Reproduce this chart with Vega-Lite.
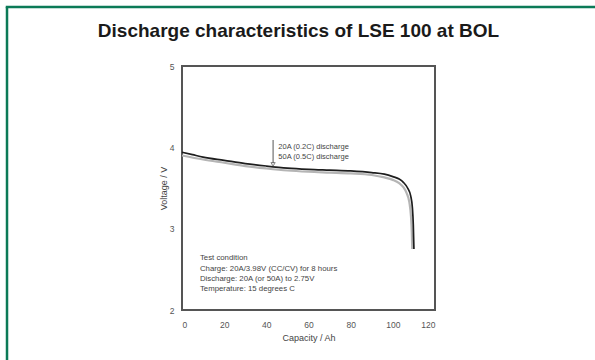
{
  "$schema": "https://vega.github.io/schema/vega-lite/v6.json",
  "width": 253,
  "height": 244,
  "autosize": {"type": "none"},
  "padding": {"left": 182, "top": 66, "right": 160, "bottom": 50},
  "background": "white",
  "title": {
    "text": "Discharge characteristics of LSE 100 at BOL",
    "font": "Liberation Sans",
    "fontSize": 19,
    "fontWeight": "bold",
    "color": "#1a1a1a",
    "offset": -35,
    "dx": -10,
    "anchor": "middle"
  },
  "config": {
    "view": {"stroke": "#555555", "strokeWidth": 2},
    "font": "Liberation Sans"
  },
  "datasets": {
    "curves": [
      {"series": "50A (0.5C)", "capacity": 0, "voltage": 3.90},
      {"series": "50A (0.5C)", "capacity": 10, "voltage": 3.85},
      {"series": "50A (0.5C)", "capacity": 20, "voltage": 3.81},
      {"series": "50A (0.5C)", "capacity": 30, "voltage": 3.77},
      {"series": "50A (0.5C)", "capacity": 40, "voltage": 3.74},
      {"series": "50A (0.5C)", "capacity": 50, "voltage": 3.715},
      {"series": "50A (0.5C)", "capacity": 60, "voltage": 3.70},
      {"series": "50A (0.5C)", "capacity": 70, "voltage": 3.69},
      {"series": "50A (0.5C)", "capacity": 80, "voltage": 3.68},
      {"series": "50A (0.5C)", "capacity": 90, "voltage": 3.66},
      {"series": "50A (0.5C)", "capacity": 96, "voltage": 3.63},
      {"series": "50A (0.5C)", "capacity": 100, "voltage": 3.60},
      {"series": "50A (0.5C)", "capacity": 103, "voltage": 3.56},
      {"series": "50A (0.5C)", "capacity": 105, "voltage": 3.51},
      {"series": "50A (0.5C)", "capacity": 106.5, "voltage": 3.44},
      {"series": "50A (0.5C)", "capacity": 107.8, "voltage": 3.33},
      {"series": "50A (0.5C)", "capacity": 108.6, "voltage": 3.15},
      {"series": "50A (0.5C)", "capacity": 109.0, "voltage": 2.95},
      {"series": "50A (0.5C)", "capacity": 109.2, "voltage": 2.75},
      {"series": "20A (0.2C)", "capacity": 0, "voltage": 3.94},
      {"series": "20A (0.2C)", "capacity": 5, "voltage": 3.91},
      {"series": "20A (0.2C)", "capacity": 10, "voltage": 3.88},
      {"series": "20A (0.2C)", "capacity": 20, "voltage": 3.84},
      {"series": "20A (0.2C)", "capacity": 30, "voltage": 3.80},
      {"series": "20A (0.2C)", "capacity": 40, "voltage": 3.77},
      {"series": "20A (0.2C)", "capacity": 50, "voltage": 3.745},
      {"series": "20A (0.2C)", "capacity": 60, "voltage": 3.73},
      {"series": "20A (0.2C)", "capacity": 70, "voltage": 3.72},
      {"series": "20A (0.2C)", "capacity": 80, "voltage": 3.71},
      {"series": "20A (0.2C)", "capacity": 90, "voltage": 3.69},
      {"series": "20A (0.2C)", "capacity": 96, "voltage": 3.67},
      {"series": "20A (0.2C)", "capacity": 100, "voltage": 3.64},
      {"series": "20A (0.2C)", "capacity": 103, "voltage": 3.61},
      {"series": "20A (0.2C)", "capacity": 105, "voltage": 3.57},
      {"series": "20A (0.2C)", "capacity": 107, "voltage": 3.50},
      {"series": "20A (0.2C)", "capacity": 108.5, "voltage": 3.40},
      {"series": "20A (0.2C)", "capacity": 109.3, "voltage": 3.25},
      {"series": "20A (0.2C)", "capacity": 109.7, "voltage": 3.05},
      {"series": "20A (0.2C)", "capacity": 110, "voltage": 2.75}
    ],
    "legendText": [
      {"label": "20A (0.2C) discharge", "capacity": 45.7, "voltage": 4.005},
      {"label": "50A (0.5C) discharge", "capacity": 45.7, "voltage": 3.88}
    ],
    "conditions": [
      {"label": "Test condition", "capacity": 8.5, "voltage": 2.64},
      {"label": "Charge: 20A/3.98V (CC/CV) for 8 hours", "capacity": 8.5, "voltage": 2.50},
      {"label": "Discharge: 20A (or 50A) to 2.75V", "capacity": 8.5, "voltage": 2.38},
      {"label": "Temperature: 15 degrees C", "capacity": 8.5, "voltage": 2.26}
    ],
    "arrow": [
      {"capacity": 43.2, "top": 4.09, "bottom": 3.79}
    ]
  },
  "layer": [
    {
      "data": {"name": "curves"},
      "transform": [{"filter": "datum.series === '50A (0.5C)'"}],
      "mark": {"type": "line", "color": "#b5b5b5", "strokeWidth": 2.2, "interpolate": "monotone"},
      "encoding": {
        "x": {
          "field": "capacity", "type": "quantitative",
          "scale": {"domain": [0, 120], "nice": false, "zero": false},
          "axis": {
            "title": "Capacity / Ah", "values": [0, 20, 40, 60, 80, 100, 120], "format": "d",
            "domain": false, "ticks": false, "grid": false,
            "labelFontSize": 8.5, "labelColor": "#555555", "labelPadding": 10,
            "titleFontSize": 9, "titleFontWeight": "normal", "titleColor": "#444444", "titlePadding": 5
          }
        },
        "y": {
          "field": "voltage", "type": "quantitative",
          "scale": {"domain": [2, 5], "nice": false, "zero": false},
          "axis": {
            "title": "Voltage / V", "values": [2, 3, 4, 5], "format": "d",
            "domain": false, "ticks": false, "grid": false,
            "labelFontSize": 8.5, "labelColor": "#555555", "labelPadding": 8,
            "titleFontSize": 9, "titleFontWeight": "normal", "titleColor": "#444444", "titlePadding": 1
          }
        }
      }
    },
    {
      "data": {"name": "curves"},
      "transform": [{"filter": "datum.series === '20A (0.2C)'"}],
      "mark": {"type": "line", "color": "#1e1e1e", "strokeWidth": 1.7, "interpolate": "monotone"},
      "encoding": {
        "x": {"field": "capacity", "type": "quantitative"},
        "y": {"field": "voltage", "type": "quantitative"}
      }
    },
    {
      "data": {"name": "arrow"},
      "mark": {"type": "rule", "color": "#555555", "strokeWidth": 1},
      "encoding": {
        "x": {"field": "capacity", "type": "quantitative"},
        "y": {"field": "top", "type": "quantitative"},
        "y2": {"field": "bottom"}
      }
    },
    {
      "data": {"name": "arrow"},
      "mark": {"type": "point", "shape": "triangle-down", "size": 18, "filled": true, "fill": "white", "stroke": "#555555", "strokeWidth": 1},
      "encoding": {
        "x": {"field": "capacity", "type": "quantitative"},
        "y": {"field": "bottom", "type": "quantitative"}
      }
    },
    {
      "data": {"name": "legendText"},
      "mark": {"type": "text", "align": "left", "baseline": "middle", "fontSize": 7.5, "color": "#444444"},
      "encoding": {
        "x": {"field": "capacity", "type": "quantitative"},
        "y": {"field": "voltage", "type": "quantitative"},
        "text": {"field": "label"}
      }
    },
    {
      "data": {"name": "conditions"},
      "mark": {"type": "text", "align": "left", "baseline": "middle", "fontSize": 7.8, "color": "#444444"},
      "encoding": {
        "x": {"field": "capacity", "type": "quantitative"},
        "y": {"field": "voltage", "type": "quantitative"},
        "text": {"field": "label"}
      }
    },
    {
      "data": {"values": [{}]},
      "mark": {"type": "rule", "color": "#0b7a57", "strokeWidth": 2.5, "clip": false},
      "encoding": {
        "x": {"datum": -83, "type": "quantitative"},
        "y": {"datum": 5.725, "type": "quantitative"},
        "y2": {"datum": 1.3}
      }
    },
    {
      "data": {"values": [{}]},
      "mark": {"type": "rule", "color": "#0b7a57", "strokeWidth": 2.5, "clip": false},
      "encoding": {
        "x": {"datum": -83.6, "type": "quantitative"},
        "x2": {"datum": 200},
        "y": {"datum": 5.725, "type": "quantitative"}
      }
    }
  ]
}
